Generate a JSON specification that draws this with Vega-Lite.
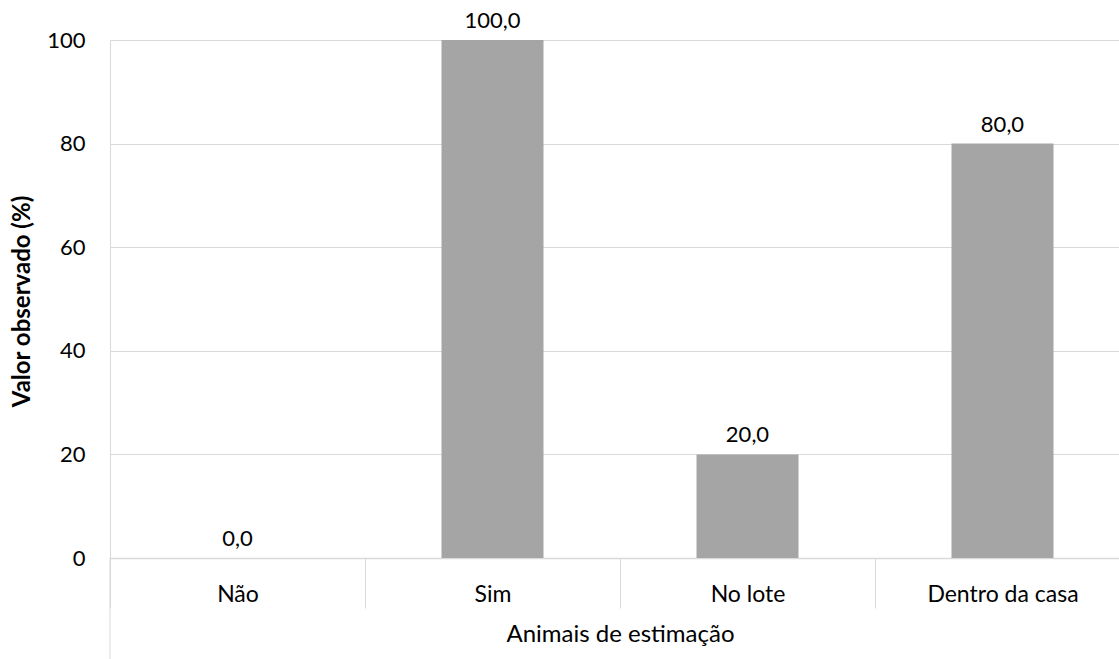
{
  "$schema": "https://vega.github.io/schema/vega-lite/v6.json",
  "width": 1009,
  "height": 518,
  "autosize": {"type": "none"},
  "padding": {"left": 110, "top": 40, "right": 0, "bottom": 101},
  "background": "white",
  "data": {
    "values": [
      {"categoria": "Não", "valor": 0},
      {"categoria": "Sim", "valor": 100},
      {"categoria": "No lote", "valor": 20},
      {"categoria": "Dentro da casa", "valor": 80}
    ]
  },
  "encoding": {
    "x": {
      "field": "categoria",
      "type": "nominal",
      "sort": null,
      "scale": {"range": [0, 1020], "paddingInner": 0, "paddingOuter": 0},
      "axis": {
        "title": "Animais de estimação",
        "labelAngle": 0,
        "tickBand": "extent",
        "tickSize": 50,
        "tickColor": "#d9d9d9",
        "tickWidth": 1,
        "domainColor": "#d9d9d9",
        "domainWidth": 1.5,
        "labelPadding": -7,
        "labelBaseline": "alphabetic",
        "labelFont": "Lato",
        "labelFontSize": 23,
        "labelColor": "#000000",
        "titleFont": "Lato",
        "titleFontSize": 24,
        "titleFontWeight": "normal",
        "titleColor": "#000000",
        "titleX": 510,
        "titleY": 83,
        "titleAlign": "center",
        "titleBaseline": "alphabetic",
        "grid": false
      }
    },
    "y": {
      "field": "valor",
      "type": "quantitative",
      "scale": {"domain": [0, 100], "nice": false},
      "axis": {
        "title": "Valor observado (%)",
        "values": [0, 20, 40, 60, 80, 100],
        "ticks": false,
        "labelPadding": 25,
        "labelFont": "Lato",
        "labelFontSize": 22,
        "labelColor": "#000000",
        "grid": true,
        "gridColor": "#d9d9d9",
        "gridWidth": 1,
        "domainColor": "#d9d9d9",
        "domainWidth": 1,
        "titleFont": "Lato",
        "titleFontSize": 24,
        "titleFontWeight": "bold",
        "titleColor": "#000000",
        "titleX": -81,
        "titleY": 261,
        "titleAngle": -90,
        "titleAlign": "center",
        "titleBaseline": "alphabetic"
      }
    }
  },
  "layer": [
    {
      "mark": {"type": "bar", "color": "#a5a5a5", "width": {"band": 0.4}}
    },
    {
      "mark": {"type": "text", "font": "Lato", "fontSize": 22, "color": "#000000", "baseline": "alphabetic", "dy": -12},
      "encoding": {
        "text": {"field": "valor", "type": "quantitative", "format": ".1f"}
      }
    },
    {
      "data": {"values": [{"categoria": "Não", "de": 0, "ate": -19.5}]},
      "mark": {"type": "rule", "color": "#d9d9d9", "strokeWidth": 1, "clip": false},
      "encoding": {
        "x": {"field": "categoria", "type": "nominal", "sort": null, "bandPosition": 0},
        "y": {"field": "de", "type": "quantitative"},
        "y2": {"field": "ate"}
      }
    }
  ],
  "config": {
    "view": {"stroke": null},
    "locale": {"number": {"decimal": ",", "thousands": ".", "grouping": [3], "currency": ["", ""]}}
  }
}
